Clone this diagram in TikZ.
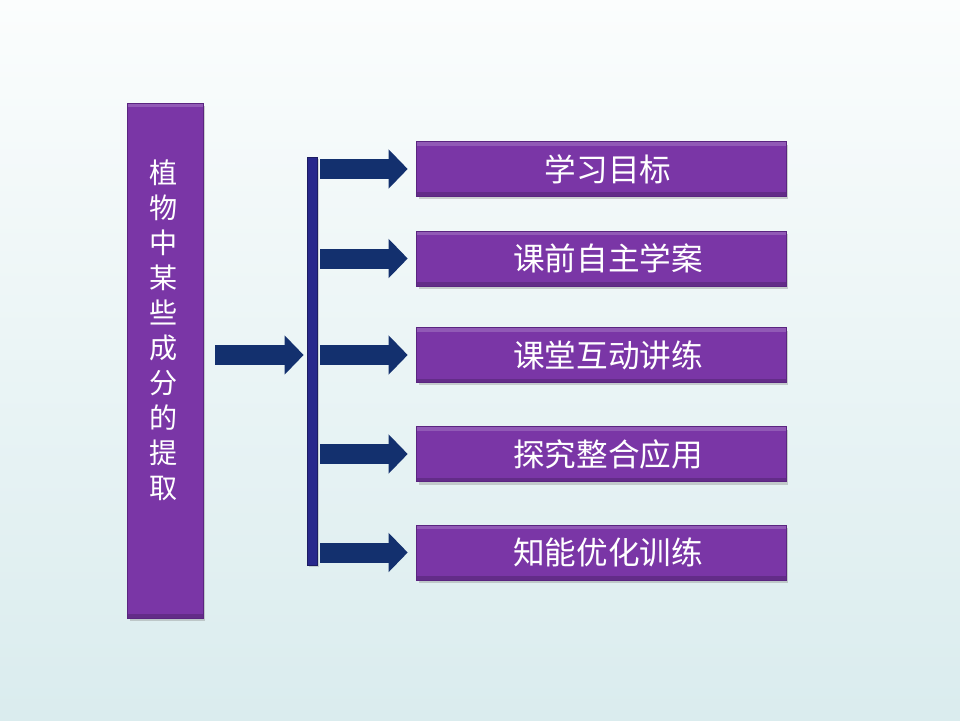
\documentclass[tikz,border=0pt]{standalone}
\usepackage{fontspec}
\newfontfamily\cjk{Noto Sans CJK SC}
\usetikzlibrary{arrows.meta,shadows}
\definecolor{TopicPurple}{HTML}{7A36A6}
\definecolor{EdgePurple}{HTML}{5A2580}
\definecolor{ArrowNavy}{HTML}{13306E}
\definecolor{BarBlue}{HTML}{28288C}
\definecolor{PageTop}{HTML}{FBFDFD}
\definecolor{PageBottom}{HTML}{DAECEE}

\begin{document}
\begin{tikzpicture}[x=0.02cm,y=-0.02cm,
    bevel/.style={path picture={
        \fill[white,opacity=0.18] (path picture bounding box.north west) rectangle ([yshift=-0.08cm]path picture bounding box.north east);
        \fill[black,opacity=0.18] (path picture bounding box.south west) rectangle ([yshift=0.08cm]path picture bounding box.south east);}},
    topicbox/.style={draw=EdgePurple,thin,fill=TopicPurple,bevel,
        minimum width=1.52cm,minimum height=10.3cm,inner sep=0pt,
        drop shadow={shadow xshift=0.05cm,shadow yshift=-0.06cm,opacity=0.35}},
    sectionbox/.style={draw=EdgePurple,thin,fill=TopicPurple,bevel,
        minimum width=7.4cm,minimum height=1.1cm,inner sep=0pt,text=white,
        font=\cjk\fontsize{18}{20}\selectfont,
        drop shadow={shadow xshift=0.05cm,shadow yshift=-0.06cm,opacity=0.35}},
    blockarrow/.style={color=ArrowNavy,line width=0.4cm,
        -{Triangle[length=0.38cm,width=0.76cm]}}]

  % page
  \shade[top color=PageTop,bottom color=PageBottom] (0,0) rectangle (960,720);

  % topic on the left
  \node[topicbox] (topic) at (165,360.5) {};
  \node[text=white,align=center,inner sep=0pt,
        font=\cjk\fontsize{16}{19.9}\selectfont] (topictext) at (164,330)
        {植\\物\\中\\某\\些\\成\\分\\的\\提\\取};

  % vertical bar
  \node[draw=BarBlue!70!black,fill=BarBlue,minimum width=0.2cm,minimum height=8.16cm,
        inner sep=0pt,drop shadow={shadow xshift=0.04cm,shadow yshift=-0.04cm,opacity=0.3}]
        (bar) at (312,361) {};

  % sections
  \node[sectionbox] (goals)    at (601,169) {\hspace*{0.28cm}学习目标};
  \node[sectionbox] (prestudy) at (601,258.5) {\hspace*{0.28cm}课前自主学案};
  \node[sectionbox] (lesson)   at (601,355) {\hspace*{0.28cm}课堂互动讲练};
  \node[sectionbox] (explore)  at (601,454) {\hspace*{0.28cm}探究整合应用};
  \node[sectionbox] (practice) at (601,552.5) {\hspace*{0.28cm}知能优化训练};

  % arrows
  \draw[blockarrow,shorten <=0.24cm,shorten >=0.06cm]
    (topic.east |- lesson.west) -- (bar.west |- lesson.west);
  \foreach \sec in {goals,prestudy,lesson,explore,practice}
    \draw[blockarrow,shorten <=0.06cm,shorten >=0.16cm]
      (bar.east |- \sec.west) -- (\sec.west);
\end{tikzpicture}
\end{document}
